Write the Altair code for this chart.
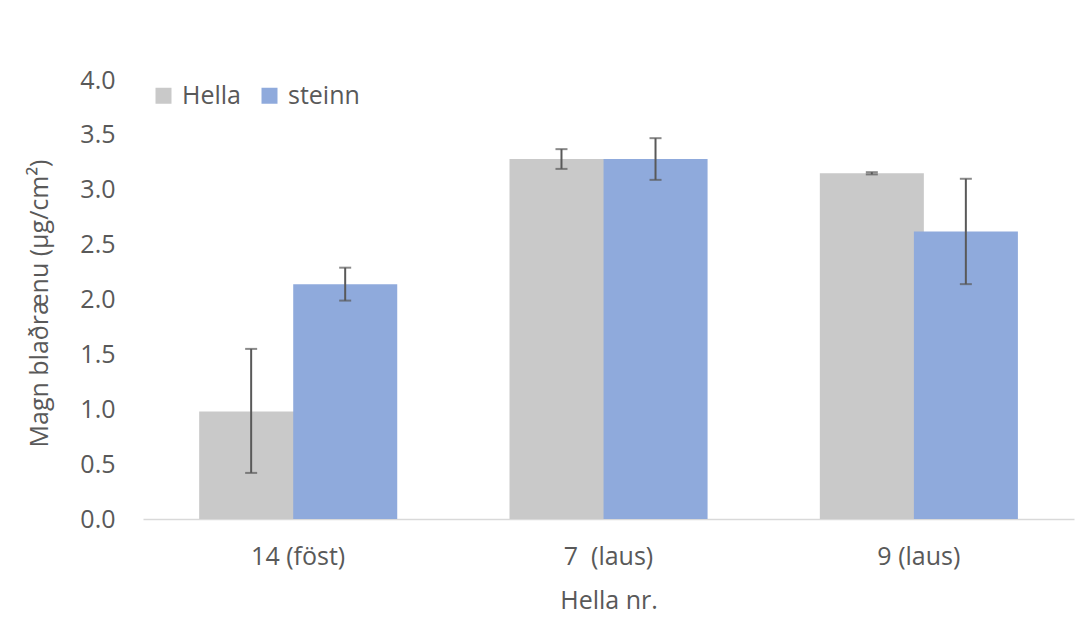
import altair as alt
import pandas as pd

categories = ["14 (föst)", "7\u00a0\u00a0(laus)", "9 (laus)"]
series = ["Hella", "steinn"]
hella_mean = [0.98, 3.28, 3.15]
hella_low = [0.42, 3.19, 3.14]
hella_high = [1.55, 3.37, 3.16]
steinn_mean = [2.14, 3.28, 2.62]
steinn_low = [1.99, 3.09, 2.14]
steinn_high = [2.29, 3.47, 3.10]
y_ticks = [0.0, 0.5, 1.0, 1.5, 2.0, 2.5, 3.0, 3.5, 4.0]

rows = []
for i, c in enumerate(categories):
    rows.append({"cat": c, "s": "Hella", "v": hella_mean[i], "lo": hella_low[i], "hi": hella_high[i]})
    rows.append({"cat": c, "s": "steinn", "v": steinn_mean[i], "lo": steinn_low[i], "hi": steinn_high[i]})
df = pd.DataFrame(rows)

FONT = "Open Sans"
TXT = "#595959"
FS = 25

xscale = alt.Scale(paddingInner=0.394, paddingOuter=0.197)
x = alt.X("cat:N", sort=categories, scale=xscale,
          axis=alt.Axis(title="Hella nr.", labelAngle=0, ticks=False, labelPadding=25,
                        labelFontSize=FS, titleFontSize=FS, titlePadding=19,
                        domainColor="#D9D9D9", domainWidth=1.5,
                        labelColor=TXT, titleColor=TXT, titleFontWeight="normal"))
xo_bars = alt.XOffset("s:N", sort=series,
                      scale=alt.Scale(range=[5, 193.1], paddingInner=0, paddingOuter=0))
yscale = alt.Scale(domain=[0, 4])

bars = alt.Chart(df).mark_bar(width=alt.RelativeBandSize(1.106)).encode(
    x=x, xOffset=xo_bars,
    y=alt.Y("v:Q", scale=yscale,
            axis=alt.Axis(title="Magn blaðrænu (µg/cm²)", values=y_ticks, format=".1f",
                          grid=False, domain=False, ticks=False, labelPadding=28,
                          labelFontSize=FS, titleFontSize=FS, titleX=-91, titleY=223,
                          labelColor=TXT, titleColor=TXT, titleFontWeight="normal")),
    color=alt.Color("s:N", sort=series,
                    scale=alt.Scale(domain=series, range=["#C9C9C9", "#8FAADC"]),
                    legend=alt.Legend(title=None, orient="none", legendX=8, legendY=3,
                                      direction="horizontal", symbolType="square",
                                      symbolSize=256, symbolStrokeWidth=0,
                                      labelFontSize=FS, labelColor=TXT, labelFont=FONT,
                                      columnPadding=16, labelOffset=6)),
)

xo_err = alt.XOffset("s:N", sort=series, scale=alt.Scale(paddingInner=0, paddingOuter=0))

rules = alt.Chart(df).mark_rule(color="#595959", strokeWidth=2).encode(
    x=alt.X("cat:N", sort=categories), xOffset=xo_err,
    y=alt.Y("lo:Q", scale=yscale), y2="hi:Q")

caps_hi = alt.Chart(df).mark_tick(color="#595959", thickness=2, size=12).encode(
    x=alt.X("cat:N", sort=categories), xOffset=xo_err,
    y=alt.Y("hi:Q", scale=yscale))
caps_lo = alt.Chart(df).mark_tick(color="#595959", thickness=2, size=12).encode(
    x=alt.X("cat:N", sort=categories), xOffset=xo_err,
    y=alt.Y("lo:Q", scale=yscale))

errs = alt.layer(rules, caps_hi, caps_lo)

chart = alt.layer(bars, errs).resolve_scale(xOffset="independent").properties(
    width=931, height=439,
    padding={"left": 135, "top": 72, "right": 6, "bottom": 100},
    autosize=alt.AutoSizeParams(type="none"),
).configure(font=FONT).configure_view(stroke=None)

chart.save("out.html", embed_options={"renderer": "svg", "actions": False})
